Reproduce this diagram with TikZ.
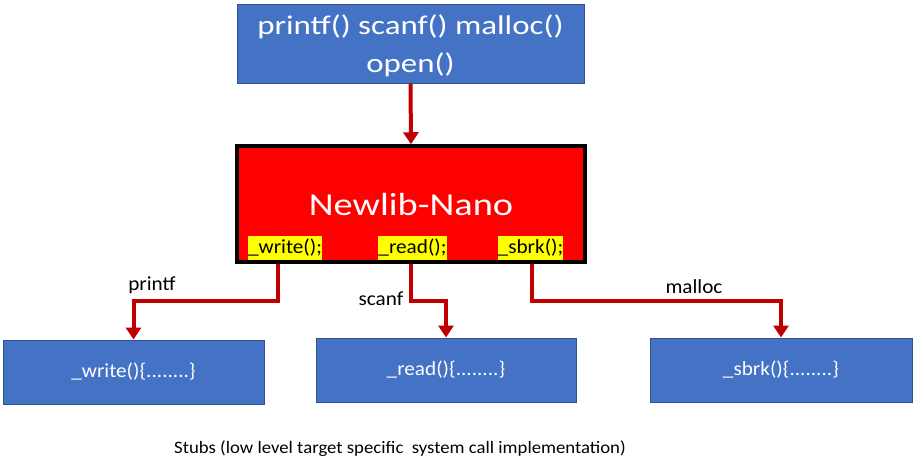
\documentclass[tikz,border=0pt]{standalone}
\usepackage{fontspec}
\usepackage{graphicx}
\setmainfont{Carlito}
\usetikzlibrary{arrows.meta}
\definecolor{boxblue}{HTML}{4472C4}
\definecolor{boxedge}{HTML}{2F528F}
\definecolor{arrred}{HTML}{C00000}
\definecolor{hlyellow}{HTML}{FFFF00}
\newcommand{\wideA}[1]{\scalebox{1.22}[1]{#1}}
\newcommand{\wideB}[1]{\scalebox{1.06}[1]{#1}}
\begin{document}
\begin{tikzpicture}[x=1pt,y=-1pt,
  bluebox/.style={draw=boxedge, line width=1pt, fill=boxblue, text=white, inner sep=0pt, align=center},
  nanobox/.style={draw=black, line width=3.5pt, fill=red, inner sep=0pt},
  hl/.style={fill=hlyellow, inner sep=0pt, minimum height=24pt, font=\fontsize{20}{24}\selectfont},
  arr/.style={draw=arrred, line width=4pt, -{Triangle[width=15pt,length=12pt]}},
  lbl/.style={font=\fontsize{20}{22}\selectfont, inner sep=0pt}]
\useasboundingbox (0,0) rectangle (914,464);
\fill[white] (0,0) rectangle (914,464);

\node[bluebox, minimum width=347pt, minimum height=79pt] (top) at (410.5,43.5) {};
\node[text=white, align=center, inner sep=0pt, font=\fontsize{27}{38}\selectfont] (toptxt) at (410.5,46) {\wideA{printf() scanf() malloc()}\\\wideA{open()}};

\node[nanobox, minimum width=348pt, minimum height=116pt] (nano) at (411,204) {};
\node[text=white, font=\fontsize{32}{36}\selectfont, inner sep=0pt] (nanotxt) at (411,205) {\scalebox{1.2}[1]{Newlib-Nano}};

\node[hl, minimum width=74pt] (wl) at (285,248) {\wideB{\_write();}};
\node[hl, minimum width=69pt] (rl) at (412.5,248) {\wideB{\_read();}};
\node[hl, minimum width=65pt] (sl) at (530.5,248) {\wideB{\_sbrk();}};

\node[bluebox, minimum width=261pt, minimum height=64pt, font=\fontsize{20}{24}\selectfont] (wstub) at (133.5,372) {\wideB{\_write()\{........\}}};
\node[bluebox, minimum width=260pt, minimum height=64pt, font=\fontsize{20}{24}\selectfont] (rstub) at (446,370) {\wideB{\_read()\{........\}}};
\node[bluebox, minimum width=262pt, minimum height=64pt, font=\fontsize{20}{24}\selectfont] (sstub) at (781,370) {\wideB{\_sbrk()\{........\}}};

\draw[arr] (top.south) -- (nano.north);

\draw[arr] ([xshift=-7pt]nano.south -| wl.south) -- ([xshift=-7pt]wl.south |- 0,301) -| (wstub.north);
\draw[arr] ([xshift=-2pt]nano.south -| rl.south) -- ([xshift=-2pt]rl.south |- 0,301) -| (rstub.north);
\draw[arr] ([xshift=1pt]nano.south -| sl.south) -- ([xshift=1pt]sl.south |- 0,301) -| (sstub.north);

\node[lbl] (lp) at (152,285) {\wideB{printf}};
\node[lbl] (ls) at (381,299) {\wideB{scanf}};
\node[lbl] (lm) at (694,287) {\wideB{malloc}};

\node[font=\fontsize{17.5}{21}\selectfont, inner sep=0pt] (stubs) at (400,449) {\scalebox{1.07}[1]{Stubs (low level target specific\ \ system call implementation)}};
\end{tikzpicture}
\end{document}
